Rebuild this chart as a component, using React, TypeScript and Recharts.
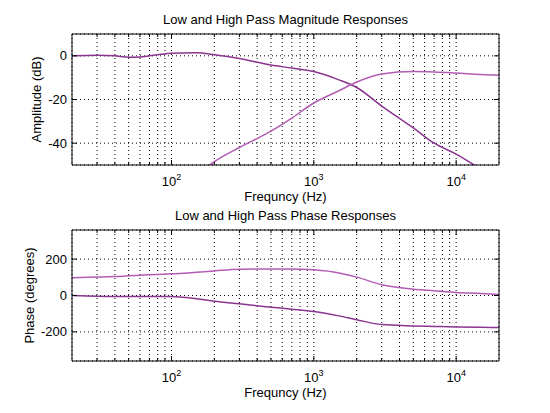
import { LineChart, Line, XAxis, YAxis, CartesianGrid, Label } from 'recharts'

const FREQ = [20, 30, 40, 50, 60, 70, 80, 100, 150, 200, 300, 500, 700, 1000, 1500, 2000, 3000, 5000, 7000, 10000, 15000, 20000]

// magnitude (dB)
const LOW_MAG = [0, 0.3, 0, -0.6, -0.5, 0, 0.5, 1.2, 1.4, 0.5, -1.2, -4.2, -5.6, -7.2, -11, -14.5, -23, -33, -40, -45, -52, -57]
const HIGH_MAG = [null, null, null, null, null, null, null, null, -55, -48.5, -42, -34.5, -28.5, -21.6, -16, -12, -8.3, -7.2, -7.4, -7.9, -8.6, -8.9]

// phase (degrees)
const HIGH_PHASE = [98, 101, 104, 108, 111, 114, 116, 119, 128, 135, 144, 146, 146, 141, 124, 101, 59, 35, 26, 17, 11, 6]
const LOW_PHASE = [0, -4, -5, -5, -5, -5, -5, -6, -18, -32, -46, -64, -75, -88, -112, -133, -160, -167, -170, -173, -175, -176]

const GRID_X = [30, 40, 50, 60, 70, 80, 90, 100, 200, 300, 400, 500, 600, 700, 800, 900, 1000, 2000, 3000, 4000, 5000, 6000, 7000, 8000, 9000, 10000]
const MAG_TICKS = [-40, -20, 0]
const PHASE_TICKS = [-200, 0, 200]

const FONT = '"Liberation Sans", Arial, sans-serif'
const DARK = '#8a3590'
const LIGHT = '#b25cb4'

const magRows = FREQ.map((f, i) => ({ f, low: LOW_MAG[i], high: HIGH_MAG[i] }))
const phaseRows = FREQ.map((f, i) => ({ f, high: HIGH_PHASE[i], low: LOW_PHASE[i] }))

const isDecade = (v: number) => [100, 1000, 10000].includes(v)

// ticks are drawn inward from the axis line, MATLAB style
const BottomTick = (props: any) => {
	const { x, y, payload } = props
	const v = payload.value
	const len = isDecade(v) ? 5 : 3
	return (
		<g>
			<line x1={x} x2={x} y1={y} y2={y - len} stroke="#000" />
			{isDecade(v) && (
				<text x={x} y={y + 21} textAnchor="middle" fontSize={13} fontFamily={FONT} fill="#000">
					10<tspan dy={-6} fontSize={9}>{Math.round(Math.log10(v))}</tspan>
				</text>
			)}
		</g>
	)
}

const TopTick = (props: any) => {
	const { x, y, payload } = props
	const len = isDecade(payload.value) ? 5 : 3
	return <line x1={x} x2={x} y1={y} y2={y + len} stroke="#000" />
}

const LeftTick = (props: any) => {
	const { x, y, payload } = props
	return (
		<g>
			<line x1={x} x2={x + 5} y1={y} y2={y} stroke="#000" />
			<text x={x - 5} y={y} dy={4.5} textAnchor="end" fontSize={13} fontFamily={FONT} fill="#000">
				{payload.value}
			</text>
		</g>
	)
}

const RightTick = (props: any) => {
	const { x, y } = props
	return <line x1={x} x2={x - 5} y1={y} y2={y} stroke="#000" />
}

interface PlotProps {
	rows: any[]
	domain: [number, number]
	yTicks: number[]
	title: string
	yLabel: string
	yLabelX: number
	top: number
	height: number
	marginTop: number
	marginBottom: number
}

const SubPlot = ({ rows, domain, yTicks, title, yLabel, yLabelX, top, height, marginTop, marginBottom }: PlotProps) => (
	<div style={{ position: 'absolute', left: 0, top }}>
		<LineChart
			width={550}
			height={height}
			data={rows}
			margin={{ top: marginTop - 1, right: 50, bottom: marginBottom - 30, left: 12 }}
		>
			<CartesianGrid stroke="#000" strokeDasharray="1 3" />
			<XAxis
				dataKey="f"
				type="number"
				scale="log"
				domain={[20, 20000]}
				ticks={GRID_X}
				interval={0}
				allowDataOverflow
				height={30}
				tickSize={0}
				tickMargin={0}
				tickLine={false}
				axisLine={{ stroke: '#000' }}
				tick={<BottomTick />}
			>
				<Label
					content={({ viewBox }: any) => (
						<text x={viewBox.x + viewBox.width / 2} y={viewBox.y + 36} textAnchor="middle" fontSize={13} fontFamily={FONT} fill="#000">
							Frequncy (Hz)
						</text>
					)}
				/>
			</XAxis>
			<XAxis
				xAxisId="t"
				orientation="top"
				dataKey="f"
				type="number"
				scale="log"
				domain={[20, 20000]}
				ticks={GRID_X}
				interval={0}
				allowDataOverflow
				height={1}
				tickSize={0}
				tickMargin={0}
				tickLine={false}
				axisLine={{ stroke: '#000' }}
				tick={<TopTick />}
			>
				<Label
					content={({ viewBox }: any) => (
						<text x={viewBox.x + viewBox.width / 2} y={viewBox.y - 9} textAnchor="middle" fontSize={13} fontFamily={FONT} fill="#000">
							{title}
						</text>
					)}
				/>
			</XAxis>
			<YAxis
				type="number"
				domain={domain}
				ticks={yTicks}
				interval={0}
				allowDataOverflow
				width={60}
				tickSize={0}
				tickMargin={0}
				tickLine={false}
				axisLine={{ stroke: '#000' }}
				tick={<LeftTick />}
			>
				<Label
					content={({ viewBox }: any) => {
						const cx = viewBox.x + viewBox.width - yLabelX
						const cy = viewBox.y + viewBox.height / 2
						return (
							<text x={cx} y={cy} transform={`rotate(-90, ${cx}, ${cy})`} textAnchor="middle" dominantBaseline="central" fontSize={13} fontFamily={FONT} fill="#000">
								{yLabel}
							</text>
						)
					}}
				/>
			</YAxis>
			<YAxis
				yAxisId="r"
				orientation="right"
				type="number"
				domain={domain}
				ticks={yTicks}
				interval={0}
				allowDataOverflow
				width={1}
				tickSize={0}
				tickMargin={0}
				tickLine={false}
				axisLine={{ stroke: '#000' }}
				tick={<RightTick />}
			/>
			<Line dataKey="low" stroke={DARK} strokeWidth={1.5} dot={false} type="monotone" isAnimationActive={false} />
			<Line dataKey="high" stroke={LIGHT} strokeWidth={1.5} dot={false} type="monotone" isAnimationActive={false} />
		</LineChart>
	</div>
)

export default function App() {
	return (
		<div style={{ position: 'absolute', left: 0, top: 0, width: 550, height: 413, background: '#fff' }}>
			<SubPlot
				rows={magRows}
				domain={[-50, 10]}
				yTicks={MAG_TICKS}
				title="Low and High Pass Magnitude Responses"
				yLabel="Amplitude (dB)"
				yLabelX={36}
				top={0}
				height={206}
				marginTop={34}
				marginBottom={41}
			/>
			<SubPlot
				rows={phaseRows}
				domain={[-360, 360]}
				yTicks={PHASE_TICKS}
				title="Low and High Pass Phase Responses"
				yLabel="Phase (degrees)"
				yLabelX={43}
				top={206}
				height={207}
				marginTop={24}
				marginBottom={52}
			/>
		</div>
	)
}
